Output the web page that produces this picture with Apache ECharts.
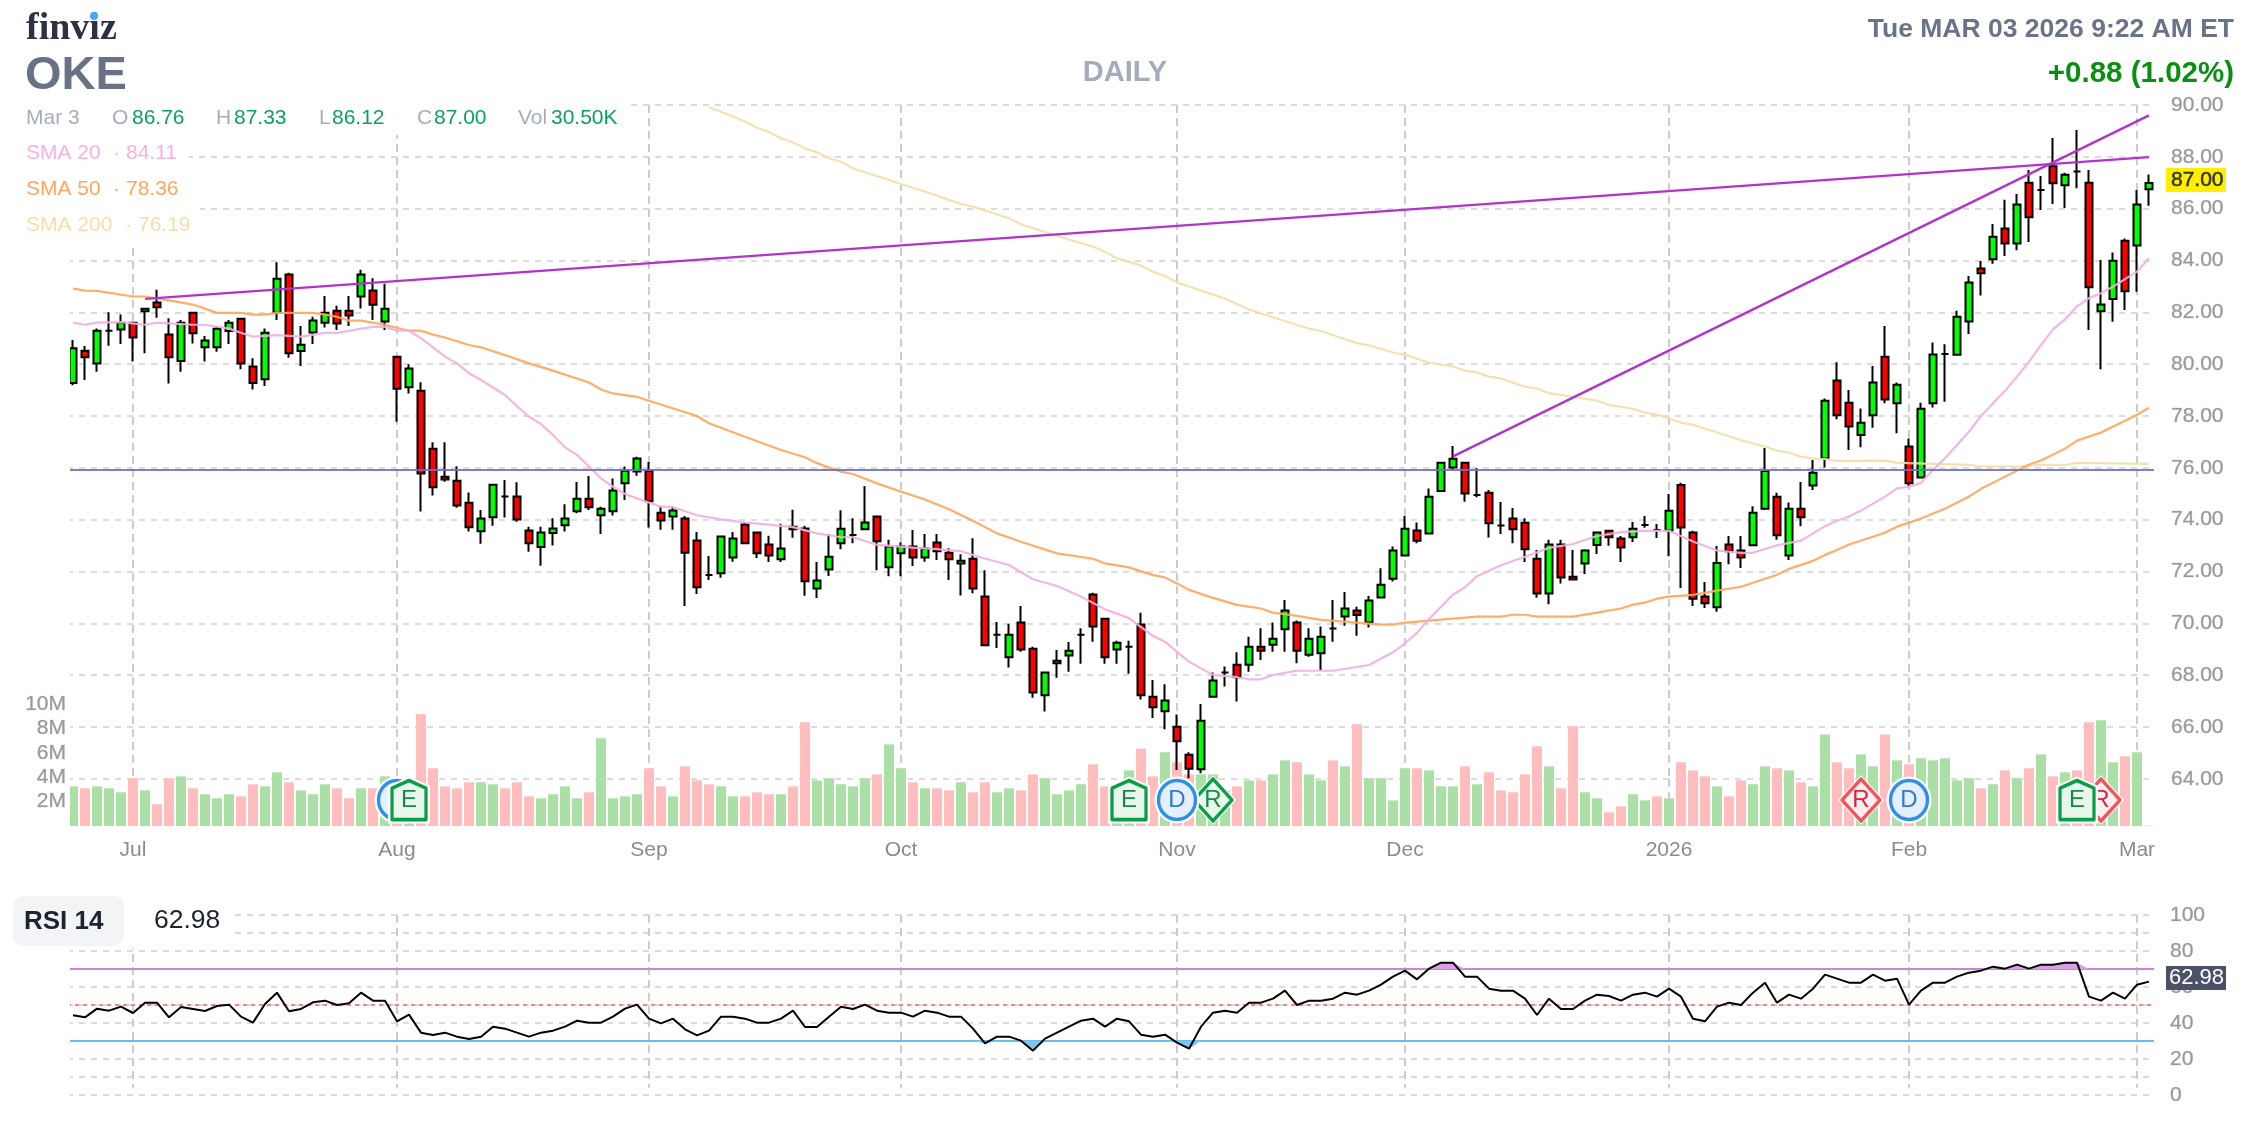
<!DOCTYPE html>
<html>
<head>
<meta charset="utf-8">
<style>html,body{margin:0;padding:0;background:#fff}#chart{width:2260px;height:1124px}</style>
<script src="https://cdn.jsdelivr.net/npm/echarts@6/dist/echarts.min.js"></script>
</head>
<body>
<div id="chart"></div>
<script>
// ---------- trading days ----------
const tradingDays = {
  Jun:[24,25,26,27,30],
  Jul:[1,2,3,7,8,9,10,11,14,15,16,17,18,21,22,23,24,25,28,29,30,31],
  Aug:[1,4,5,6,7,8,11,12,13,14,15,18,19,20,21,22,25,26,27,28,29],
  Sep:[2,3,4,5,8,9,10,11,12,15,16,17,18,19,22,23,24,25,26,29,30],
  Oct:[1,2,3,6,7,8,9,10,13,14,15,16,17,20,21,22,23,24,27,28,29,30,31],
  Nov:[3,4,5,6,7,10,11,12,13,14,17,18,19,20,21,24,25,26,28],
  Dec:[1,2,3,4,5,8,9,10,11,12,15,16,17,18,19,22,23,24,26,29,30,31],
  Jan:[2,5,6,7,8,9,12,13,14,15,16,20,21,22,23,26,27,28,29,30],
  Feb:[2,3,4,5,6,9,10,11,12,13,17,18,19,20,23,24,25,26,27],
  Mar:[2,3]
};
const categories = Object.keys(tradingDays).flatMap(m => tradingDays[m].map(d => m + ' ' + d));
const monthTicks = {'Jul 1':'Jul','Aug 1':'Aug','Sep 2':'Sep','Oct 1':'Oct','Nov 3':'Nov','Dec 1':'Dec','Jan 2':'2026','Feb 2':'Feb','Mar 2':'Mar'};

// ---------- price: open, close, low, high ----------
const ohlcRead = [
[79.30,80.64,79.22,80.96],[80.55,80.30,79.42,80.73],[80.06,81.32,79.74,81.41],[81.32,81.32,80.74,82.03],[81.37,81.63,80.81,81.95],[81.63,81.06,80.13,81.64],[82.07,82.17,80.45,82.17],[82.40,82.22,81.82,82.89],[81.17,80.30,79.28,81.80],[80.15,81.63,79.74,81.73],
[82.01,81.22,80.83,82.01],[80.68,80.94,80.13,81.12],[80.68,81.40,80.51,81.47],[81.31,81.63,80.81,81.73],[81.78,80.06,79.83,81.80],[79.94,79.30,79.06,80.26],[79.45,81.24,79.19,81.41],[82.01,83.32,81.73,83.95],[83.48,80.45,80.28,83.55],[80.54,80.78,79.96,81.50],
[81.25,81.71,80.81,81.86],[81.63,82.01,81.44,82.65],[82.09,81.60,81.35,82.27],[82.09,81.91,81.50,82.65],[82.63,83.48,82.18,83.66],[82.86,82.31,81.73,83.33],[81.68,82.17,81.35,83.12],[80.32,79.08,77.82,80.32],[79.14,79.86,78.91,80.03],[79.01,75.83,74.36,79.33],
[76.78,75.30,74.98,77.03],[75.71,75.60,75.51,77.03],[75.55,74.60,74.51,76.10],[74.70,73.76,73.59,75.10],[73.60,74.09,73.12,74.42],[74.14,75.40,73.81,75.40],[74.94,74.94,74.13,75.58],[74.94,74.06,73.97,75.49],[73.63,73.14,72.82,73.78],[72.99,73.55,72.28,73.78],
[73.53,73.71,73.05,74.10],[73.83,74.09,73.59,74.64],[74.37,74.86,74.30,75.50],[74.86,74.53,74.42,75.73],[74.22,74.47,73.50,74.55],[74.37,75.17,74.21,75.64],[75.45,75.94,74.81,76.09],[75.91,76.40,75.74,76.47],[75.94,74.76,73.75,76.26],[74.32,74.02,73.66,74.58],
[74.17,74.40,73.66,74.58],[74.09,72.78,70.73,74.19],[73.25,71.45,71.19,73.57],[71.92,71.92,71.73,72.66],[71.99,73.40,71.82,73.40],[72.60,73.32,72.44,73.57],[73.86,73.14,73.14,73.94],[73.55,72.76,72.58,73.55],[73.09,72.68,72.43,73.43],[72.53,72.94,72.43,73.89],
[73.78,73.68,73.35,74.43],[73.71,71.68,71.12,73.81],[71.40,71.71,71.04,72.43],[72.14,72.63,71.89,73.50],[73.14,73.70,72.91,74.41],[73.46,73.46,73.14,74.10],[73.68,73.94,73.65,75.35],[74.17,73.22,72.11,74.17],[72.22,73.01,71.88,73.27],[72.76,73.01,71.88,73.18],
[73.01,72.60,72.27,73.65],[72.60,72.94,72.44,73.50],[73.17,72.83,72.50,73.50],[72.78,72.53,71.73,72.95],[72.37,72.47,71.13,72.72],[72.55,71.40,71.22,73.33],[71.09,69.22,69.22,72.11],[69.63,69.63,69.12,70.11],[68.76,69.63,68.36,70.04],[70.09,69.06,68.97,70.73],
[69.09,67.40,67.20,69.17],[67.29,68.17,66.67,68.17],[68.53,68.63,67.97,69.04],[68.83,69.01,68.20,69.35],[69.63,69.63,68.51,69.87],[71.17,69.94,69.36,71.24],[70.24,68.76,68.51,70.24],[69.06,69.32,68.51,69.40],[69.17,69.17,68.12,69.40],[70.01,67.29,67.13,70.47],
[67.24,66.83,66.43,67.88],[66.68,67.09,65.99,67.72],[66.09,65.53,64.42,66.56],[65.01,64.47,64.10,65.10],[64.45,66.32,64.29,66.96],[67.24,67.86,67.24,68.17],[68.17,68.17,67.63,68.40],[68.47,67.99,67.05,68.95],[68.47,69.17,68.20,69.55],[69.17,69.01,68.65,69.87],
[69.24,69.47,68.97,70.09],[69.83,70.55,68.97,70.96],[70.09,69.01,68.53,70.17],[68.86,69.47,68.78,69.87],[68.91,69.55,68.27,69.94],[69.86,69.86,69.36,70.96],[70.32,70.63,69.97,71.27],[70.55,70.38,69.59,70.70],[70.09,70.94,69.90,71.11],[71.06,71.55,71.06,72.18],
[71.78,72.86,71.67,73.01],[72.68,73.70,72.68,74.19],[73.63,73.24,73.14,73.94],[73.52,74.93,73.52,75.25],[75.16,76.24,75.16,76.24],[76.05,76.39,75.96,76.88],[76.24,75.06,74.74,76.24],[75.00,75.00,74.91,76.02],[75.09,73.91,73.36,75.19],[73.82,73.82,73.50,74.73],
[74.09,73.68,73.14,74.50],[73.93,72.91,72.43,74.10],[72.55,71.21,71.05,72.88],[71.21,73.09,70.80,73.27],[73.09,71.83,71.60,73.27],[71.86,71.75,71.75,72.88],[72.37,72.86,71.96,72.91],[73.07,73.55,72.73,73.59],[73.62,73.37,73.04,73.65],[73.32,72.98,72.43,73.42],
[73.37,73.70,73.19,73.96],[73.84,73.84,73.74,74.19],[73.65,73.65,73.34,73.88],[73.63,74.39,72.65,75.04],[75.39,73.75,71.42,75.47],[73.55,71.01,70.73,73.62],[71.09,70.83,70.65,71.65],[70.68,72.39,70.51,73.03],[73.09,72.83,72.34,73.42],[72.86,72.60,72.19,73.42],
[73.06,74.32,73.06,74.57],[74.47,75.93,74.42,76.80],[74.93,73.45,73.27,75.09],[72.68,74.47,72.50,74.71],[74.47,74.14,73.80,75.50],[75.37,75.86,75.19,76.34],[76.40,78.63,76.05,78.71],[79.40,78.07,77.91,80.10],[78.55,77.63,76.73,79.04],[77.31,77.78,76.83,78.33],
[78.07,79.32,77.59,79.96],[80.32,78.68,78.53,81.50],[78.53,79.24,77.37,79.32],[76.86,75.45,75.36,77.17],[75.68,78.32,75.68,78.55],[78.53,80.40,78.37,80.87],[80.42,80.42,78.59,80.80],[80.39,81.86,80.39,82.09],[81.68,83.17,81.19,83.42],[83.71,83.53,82.67,84.00],
[84.07,84.94,83.89,85.42],[85.25,84.68,84.19,86.35],[84.68,86.17,84.42,86.58],[87.01,85.68,84.73,87.50],[86.73,86.73,85.96,87.27],[87.65,86.99,86.19,88.73],[86.91,87.32,86.04,87.40],[87.44,87.44,86.80,89.04],[87.01,82.99,81.35,87.50],[82.07,82.32,79.83,84.04],
[82.53,84.01,81.67,84.33],[84.78,82.83,82.12,84.87],[84.60,86.17,82.81,86.73],[86.76,87.00,86.12,87.33]
];

// ---------- moving averages: [trading day index, value] as read ----------
const sma20 = [[0,81.63],[1,81.55],[2,81.63],[4,81.65],[6,81.55],[7,81.63],[10,81.55],[11,81.55],[13,81.40],[14,81.24],[15,81.09],[17,81.15],[19,81.09],[21,81.24],[22,81.24],[24,81.40],[25,81.47],[26,81.47],[27,81.32],[28,81.32],[29,81.03],[31,80.32],[32,80.06],[33,79.68],[34,79.42],[36,78.85],[37,78.42],[38,78.01],[39,77.73],[40,77.31],[41,76.83],[42,76.54],[43,76.09],[44,75.64],[45,75.32],[46,75.04],[47,74.87],[49,74.55],[50,74.53],[52,74.22],[54,74.06],[56,73.94],[58,73.86],[60,73.76],[62,73.52],[64,73.37],[65,73.37],[67,73.08],[70,72.97],[72,72.91],[74,72.83],[76,72.56],[78,72.31],[80,71.76],[82,71.50],[84,71.09],[86,70.60],[88,70.26],[90,69.58],[91,69.36],[92,68.97],[93,68.59],[94,68.33],[95,68.08],[97,67.99],[98,67.91],[99,67.91],[100,68.08],[102,68.24],[105,68.24],[108,68.46],[110,68.95],[111,69.30],[112,69.70],[113,70.23],[114,70.70],[115,71.17],[116,71.45],[117,71.88],[119,72.30],[121,72.63],[123,72.96],[125,73.11],[127,73.42],[129,73.57],[131,73.62],[133,73.62],[135,73.21],[137,72.86],[139,72.78],[140,72.78],[142,73.06],[144,73.24],[146,73.80],[147,74.01],[148,74.17],[149,74.40],[151,74.94],[152,75.26],[153,75.32],[154,75.47],[155,75.96],[156,76.41],[157,76.92],[158,77.44],[159,78.04],[161,79.01],[162,79.55],[163,80.13],[164,80.77],[165,81.37],[166,81.76],[167,82.25],[168,82.57],[169,82.76],[170,83.01],[171,83.30],[172,83.59],[173,84.11]];
const sma50 = [[0,82.94],[1,82.86],[2,82.85],[5,82.63],[6,82.63],[8,82.48],[10,82.32],[12,82.01],[14,82.01],[15,81.94],[16,81.94],[17,82.01],[19,82.01],[20,82.01],[21,81.94],[22,81.86],[23,81.71],[24,81.71],[26,81.55],[28,81.32],[29,81.32],[30,81.17],[31,81.06],[33,80.77],[34,80.68],[36,80.38],[38,80.06],[40,79.78],[43,79.32],[44,79.06],[45,78.91],[47,78.78],[48,78.63],[52,78.04],[53,77.76],[56,77.24],[59,76.73],[61,76.45],[62,76.22],[64,75.90],[65,75.81],[67,75.45],[69,75.13],[71,74.83],[73,74.45],[75,74.01],[77,73.52],[79,73.20],[82,72.76],[85,72.55],[86,72.37],[88,72.22],[90,71.92],[91,71.83],[92,71.60],[93,71.35],[95,71.04],[97,70.77],[99,70.63],[100,70.47],[102,70.35],[104,70.19],[107,70.09],[109,70.01],[110,70.01],[111,70.09],[113,70.16],[115,70.24],[117,70.32],[119,70.32],[120,70.39],[121,70.39],[122,70.32],[125,70.32],[127,70.47],[129,70.63],[130,70.78],[131,70.86],[132,71.01],[133,71.09],[135,71.16],[137,71.32],[139,71.47],[141,71.78],[142,71.93],[143,72.16],[145,72.47],[146,72.70],[147,72.88],[148,73.09],[150,73.39],[151,73.55],[152,73.78],[154,74.09],[155,74.29],[156,74.47],[158,74.94],[159,75.24],[161,75.71],[163,76.17],[164,76.32],[166,76.78],[167,77.09],[169,77.40],[171,77.86],[172,78.09],[173,78.36]];
const sma200 = [[53,89.91],[54,89.74],[56,89.36],[57,89.12],[58,88.96],[59,88.72],[60,88.56],[61,88.33],[62,88.19],[63,87.95],[64,87.82],[65,87.56],[67,87.27],[69,86.96],[71,86.67],[73,86.35],[74,86.19],[75,86.09],[76,85.94],[78,85.64],[79,85.41],[81,85.12],[83,84.83],[85,84.55],[86,84.36],[87,84.10],[89,83.83],[90,83.58],[91,83.42],[92,83.17],[96,82.55],[98,82.14],[100,81.84],[102,81.54],[103,81.40],[104,81.31],[106,80.99],[107,80.84],[108,80.76],[110,80.48],[111,80.39],[113,80.09],[115,79.94],[116,79.78],[117,79.71],[118,79.55],[119,79.48],[121,79.16],[122,79.09],[123,78.92],[125,78.78],[127,78.63],[128,78.47],[130,78.32],[131,78.17],[132,78.09],[133,77.94],[134,77.78],[135,77.70],[137,77.40],[139,77.11],[140,76.98],[141,76.86],[142,76.70],[143,76.63],[144,76.47],[145,76.40],[146,76.38],[147,76.31],[151,76.32],[152,76.24],[153,76.22],[158,76.15],[159,76.09],[162,76.09],[164,76.15],[166,76.15],[167,76.23],[173,76.19]];

// ---------- trend lines ----------
const trendFlat = [[6,82.54],[173,88.00]];
const trendRising = [[115,76.48],[173,89.60]];
const supportLevel = 75.97;

// ---------- volume, millions ----------
const volume = [3.25,3.09,3.25,3.09,2.76,3.91,2.92,1.78,3.91,4.07,3.09,2.60,2.27,2.60,2.43,3.42,3.25,4.40,3.58,2.92,2.60,3.42,3.09,2.27,3.09,3.09,4.07,3.00,2.90,9.15,4.73,3.25,3.09,3.58,3.58,3.42,3.09,3.58,2.43,2.27,2.60,3.25,2.27,2.76,7.19,2.27,2.43,2.60,4.73,3.25,2.43,4.89,3.74,3.42,3.25,2.43,2.43,2.76,2.60,2.60,3.25,8.50,3.74,3.91,3.42,3.25,3.91,4.23,6.69,4.73,3.58,3.09,3.09,2.92,3.58,2.76,3.58,2.76,3.09,2.92,4.23,3.91,2.60,2.92,3.42,5.05,3.25,3.40,4.56,6.34,4.07,6.04,5.22,4.23,4.23,4.23,2.90,3.25,3.74,3.74,4.23,5.38,5.22,4.23,3.74,5.38,4.89,8.33,3.91,3.91,2.10,4.73,4.73,4.56,3.25,3.25,4.89,3.42,4.40,2.92,2.76,4.23,6.53,4.89,3.09,8.17,2.76,2.27,1.12,1.61,2.60,2.10,2.43,2.27,5.22,4.56,4.07,3.25,2.43,3.74,3.42,4.89,4.73,4.56,3.58,3.25,7.51,5.22,4.73,5.87,4.89,7.51,5.38,5.05,5.55,5.38,5.55,3.74,3.91,3.09,3.42,4.56,3.91,4.73,5.87,4.07,4.40,4.56,8.50,8.66,5.22,5.71,6.04,0.03];
const volumeSide = ['GRGGGRGRRG','RGGGRRGGRG','GGRRGRGRGR','RRRRGGRRRG','GGGRGGGGRR','GRRRGGRRRG','RRGGGGGRGG','RGRRGRRGGR','RGGGGRRGGR','RGRRGGGRGR','GGRGGRGRGG','GGRGGGRGRR','RRRGRRGGRR','GGRGRRRGRR','GGRGRGGRRG','GRGRGGGGGR','GRGRGRGRRG','GRGG'].join('').split('');

// ---------- RSI 14 ----------
const rsi = [44.26,43.15,47.97,46.86,49.08,45.56,51.30,51.30,43.15,48.89,47.78,46.67,49.45,50.19,43.52,40.19,50.56,56.86,46.49,47.78,51.49,52.41,50.00,50.93,56.86,52.41,52.41,40.93,44.63,34.63,33.34,34.63,32.41,31.12,32.41,37.97,36.86,34.63,32.41,34.63,35.75,37.97,41.30,40.19,40.19,43.52,47.97,50.19,42.41,39.82,42.41,36.49,33.15,35.75,43.52,43.52,42.41,40.19,40.19,42.41,46.86,37.78,37.78,43.52,49.08,47.78,50.19,46.86,45.75,45.75,43.52,46.86,45.75,43.52,43.52,36.86,28.71,32.41,32.41,30.19,24.63,31.30,34.63,37.97,41.30,42.41,37.97,42.41,40.93,33.52,32.41,33.52,29.08,25.75,37.97,45.75,46.86,45.75,51.30,51.30,53.52,57.97,50.00,52.41,52.41,53.52,56.86,55.75,57.97,61.30,65.75,69.08,64.26,70.19,73.52,73.52,65.75,65.75,59.08,57.97,57.97,53.52,44.45,53.52,47.78,47.78,52.41,55.75,55.00,52.41,55.75,56.86,54.63,59.08,54.63,42.41,40.93,49.08,51.30,50.00,56.86,62.41,51.30,55.75,53.52,59.08,66.86,64.63,62.41,62.41,66.86,63.52,64.63,50.19,57.97,62.41,62.41,65.75,67.97,69.08,71.30,70.19,72.41,70.19,72.41,72.41,73.52,73.52,54.63,52.41,56.86,53.52,61.30,62.98];
const rsiLevels = {overbought:70, middle:50, oversold:30};

// ---------- event markers ----------
const earningsDays = [28,88,167];
const dividendDays = [27,92,153];
const ratingUpDays = [95];
const ratingDownDays = [149,169];
const markerLevel = 2.13;

// ---------- header texts ----------
const infoRow = [['Mar 3',26,'l'],['O',112,'l'],['86.76',132,'v'],['H',216,'l'],['87.33',234,'v'],['L',319,'l'],['86.12',332,'v'],['C',417,'l'],['87.00',434,'v'],['Vol',518,'l'],['30.50K',551,'v']];
const smaRows = [['SMA 20','84.11',153,'#f4b2e2',113,126],['SMA 50','78.36',189,'#ffa65e',113,126],['SMA 200','76.19',225,'#f2dfaa',125,138]];

// Readings above were taken at 26 px per dollar; the axis in the picture runs 25.92 px per dollar.
const PRICE_TOP = 90;
const readCal = p => +(PRICE_TOP - (PRICE_TOP - p) * 26 / 25.917).toFixed(2);
const ohlc = ohlcRead.map(r => r.map(readCal));
const calPairs = arr => arr.map(([i, v]) => [i, readCal(v)]);

// ---------- layout & styling ----------
const FONT = '"Liberation Sans", Arial, sans-serif';
const LEFT = 67, BANDS = 2088;
const GRID_LINE = {show:true, lineStyle:{color:'#dcdcdc', type:[6,6], width:2}};
const VLINE = {color:'#cccccc', type:[8,5], width:2};
const axisText = {color:'#9a9a9a', fontFamily:FONT, fontSize:21, textBorderColor:'rgba(150,150,150,.55)', textBorderWidth:0.6};

const tickDays = Object.keys(monthTicks);
function dummy(x, y, values, markData, z, lineStyle){
  return {type:'line', xAxisIndex:x, yAxisIndex:y, data:values, z, silent:true, showSymbol:false, symbol:'none',
    lineStyle:{opacity:0}, markLine:{silent:true, symbol:'none', animation:false, label:{show:false}, lineStyle, data:markData, z}};
}
const closes = ohlc.map(r => r[1]);
const vertical = (low, high) => tickDays.map(d => [{xAxis:d, yAxis:high},{xAxis:d, yAxis:low}]);
function smaLine(data, color){
  return {type:'line', xAxisIndex:0, yAxisIndex:0, data:calPairs(data), showSymbol:false, symbol:'none', z:5, silent:true,
    lineStyle:{color, width:2.2, opacity:.92}};
}
function trendLine(data){
  return {type:'line', xAxisIndex:0, yAxisIndex:0, data:calPairs(data), showSymbol:false, symbol:'none', z:6, silent:true,
    lineStyle:{color:'#b232cc', width:2.4}};
}
const HOUSE = 'path://M17,0 L34,8 L34,41 L0,41 L0,8 Z';
function markerSeries(days, symbol, size, border, fill, textColor, letter, z){
  const data = days.map(d => [d, markerLevel]);
  const base = {type:'scatter', xAxisIndex:1, yAxisIndex:1, data, symbol, clip:false, silent:true, z};
  return [
    Object.assign({}, base, {symbolSize:[size[0]+8,size[1]+8], itemStyle:{color:'#fff',opacity:1}}),
    Object.assign({}, base, {symbolSize:size,
      itemStyle:{color:fill, borderColor:border, borderWidth:3.5, borderJoin:'round', opacity:1},
      label:{show:true, position:'inside', formatter:letter, color:textColor, fontFamily:FONT, fontSize:24}})
  ];
}

const series = [
  dummy(0,0,closes,vertical(64,90),1,VLINE),
  dummy(1,1,volume,vertical(0,3.85),1,VLINE),
  dummy(2,2,rsi,vertical(4,100),1,VLINE),
  {type:'bar', xAxisIndex:1, yAxisIndex:1, barWidth:10, z:2, silent:true,
   data:volume.map((v,i)=>({value:v, itemStyle:{color:volumeSide[i]==='G'?'#aadfa6':'#ffbdbd'}}))},
  {type:'candlestick', xAxisIndex:0, yAxisIndex:0, barWidth:8, z:4, silent:true, data:ohlc,
   itemStyle:{color:'#00ff00', color0:'#ff0000', borderColor:'#000', borderColor0:'#000', borderColorDoji:'#000', borderWidth:2}},
  smaLine(sma200,'#f2dfaa'),
  smaLine(sma50,'#ffa65e'),
  smaLine(sma20,'#f2b0e0'),
  trendLine(trendFlat),
  trendLine(trendRising),
  dummy(0,0,closes,[{yAxis:readCal(supportLevel)}],6,{color:'#6f6fc4', type:'solid', width:2.2, opacity:.9}),
  // RSI reference levels, zones, line
  dummy(2,2,rsi,[{yAxis:rsiLevels.overbought}],3,{color:'#cc82dc', type:'solid', width:2}),
  dummy(2,2,rsi,[{yAxis:rsiLevels.middle}],3,{color:'#ff8080', type:[4,4], width:2}),
  dummy(2,2,rsi,[{yAxis:rsiLevels.oversold}],3,{color:'#68bdee', type:'solid', width:2}),
  {type:'line', xAxisIndex:2, yAxisIndex:2, data:rsi.map(v=>Math.max(v,rsiLevels.overbought)), showSymbol:false, symbol:'none', z:4, silent:true,
   lineStyle:{width:0}, areaStyle:{origin:rsiLevels.overbought, color:'#dc9ee6', opacity:1}},
  {type:'line', xAxisIndex:2, yAxisIndex:2, data:rsi.map(v=>Math.min(v,rsiLevels.oversold)), showSymbol:false, symbol:'none', z:4, silent:true,
   lineStyle:{width:0}, areaStyle:{origin:rsiLevels.oversold, color:'#7cc6f0', opacity:1}},
  {type:'line', xAxisIndex:2, yAxisIndex:2, data:rsi, showSymbol:false, symbol:'none', z:5, silent:true,
   lineStyle:{color:'#000', width:2}},
  ...markerSeries(ratingUpDays,'diamond',[38,42],'#0a9e4b','#e8f6ec','#178a45','R',8),
  ...markerSeries(ratingDownDays,'diamond',[38,42],'#f4525c','#fdeeef','#d4263c','R',8),
  ...markerSeries(dividendDays,'circle',[37,39],'#2e90e8','#e6f0fd','#2e7bd0','D',9),
  ...markerSeries(earningsDays,HOUSE,[34,39],'#0a9e4b','#e8f6ec','#178a45','E',10)
];

const txt = (text,x,y,font,fill,align,extra) => ({type:'text', z:102, silent:true,
  style:Object.assign({text,x,y,font,fill,textAlign:align||'left',align:align||'left',textVerticalAlign:'middle',verticalAlign:'middle'}, extra||{})});
const cover = (x,y,width,height) => ({type:'rect', z:100, silent:true, shape:{x,y,width,height}, style:{fill:'#fff'}});
const f = (size,weight,family) => `${weight||'normal'} ${size}px ${family||FONT}`;

const elements = [
  cover(67,100,3,735), cover(67,905,3,195), cover(2154,100,3,735), cover(2154,905,3,195),
  cover(0,99,627,36), cover(0,135,189,36), cover(0,171,189,36), cover(0,207,200,36),
  cover(0,893,232,55),
  {type:'rect', z:101, silent:true, shape:{x:13,y:896,width:111,height:50,r:10}, style:{fill:'#f3f4f6'}},
  txt('finviz',26,29,f(38,'bold','"Liberation Serif", serif'),'#2d3142'),
  {type:'circle', z:103, silent:true, shape:{cx:94,cy:16,r:4}, style:{fill:'#4da3ff'}},
  txt('OKE',25,76,f(47,'bold'),'#697186'),
  txt('DAILY',1125,73,f(29,'bold'),'#a5abbc','center'),
  txt('Tue MAR 03 2026 9:22 AM ET',2234,30,f(26.5,'bold'),'#6b7388','right'),
  txt('+0.88 (1.02%)',2234,74,f(29.5,'bold'),'#0a8f12','right'),
  ...infoRow.map(r => txt(r[0],r[1],118,f(21),r[2]==='l'?'#a7adc0':'#0ba35a')),
  ...smaRows.flatMap(r => [txt(r[0],26,r[2],f(21),r[3]), txt('·',r[4],r[2],f(21),r[3]), txt(r[1],r[5],r[2],f(21),r[3])]),
  {type:'rect', z:101, silent:true, shape:{x:2166,y:168,width:60,height:24}, style:{fill:'#ffee00'}},
  txt('87.00',2171,180,f(21),'#333333',null,{stroke:'#333333',lineWidth:0.5}),
  txt('RSI 14',24,922,f(26,'bold'),'#1e2330'),
  txt('62.98',154,921,f(26.5),'#1e2330'),
  {type:'rect', z:101, silent:true, shape:{x:2166,y:966,width:60,height:24}, style:{fill:'#4a5168'}},
  txt('62.98',2169,978,f(22),'#ffffff')
];

const xBase = {type:'category', data:categories, boundaryGap:true, axisLine:{show:false}, axisTick:{show:false}, splitLine:{show:false}};
const option = {
  animation:false,
  backgroundColor:'#fff',
  grid:[
    {left:LEFT, width:BANDS, top:105, height:673.8},
    {left:LEFT, width:BANDS, top:704, height:122},
    {left:LEFT, width:BANDS, top:915, height:180}
  ],
  xAxis:[
    Object.assign({}, xBase, {gridIndex:0, axisLabel:{show:false}}),
    Object.assign({}, xBase, {gridIndex:1, axisLabel:{show:true, margin:14, color:'#8c8c8c', fontFamily:FONT, fontSize:21,
      interval:(i,name)=>name in monthTicks, formatter:name=>monthTicks[name]||''}}),
    Object.assign({}, xBase, {gridIndex:2, axisLabel:{show:false}})
  ],
  yAxis:[
    {type:'value', gridIndex:0, position:'right', min:64, max:PRICE_TOP, interval:2, splitLine:GRID_LINE, axisLine:{show:false}, axisTick:{show:false},
     axisLabel:Object.assign({}, axisText, {margin:16, padding:[0,0,8,0], formatter:v=>v.toFixed(2)})},
    {type:'value', gridIndex:1, position:'left', min:0, max:10, interval:2, splitLine:{show:false}, axisLine:{show:false}, axisTick:{show:false},
     axisLabel:Object.assign({}, axisText, {margin:1, padding:[0,0,8,0], formatter:v=>v===0?'':v+'M'})},
    {type:'value', gridIndex:2, position:'right', min:0, max:100, interval:10, splitLine:GRID_LINE, axisLine:{show:false}, axisTick:{show:false},
     axisLabel:Object.assign({}, axisText, {margin:15, padding:[0,0,7,0], formatter:v=>v%20===0?String(v):''})}
  ],
  series,
  graphic:{elements}
};
const chart = echarts.init(document.getElementById('chart'), null, {renderer:'canvas', width:2260, height:1124});
chart.setOption(option);
</script>
</body>
</html>
